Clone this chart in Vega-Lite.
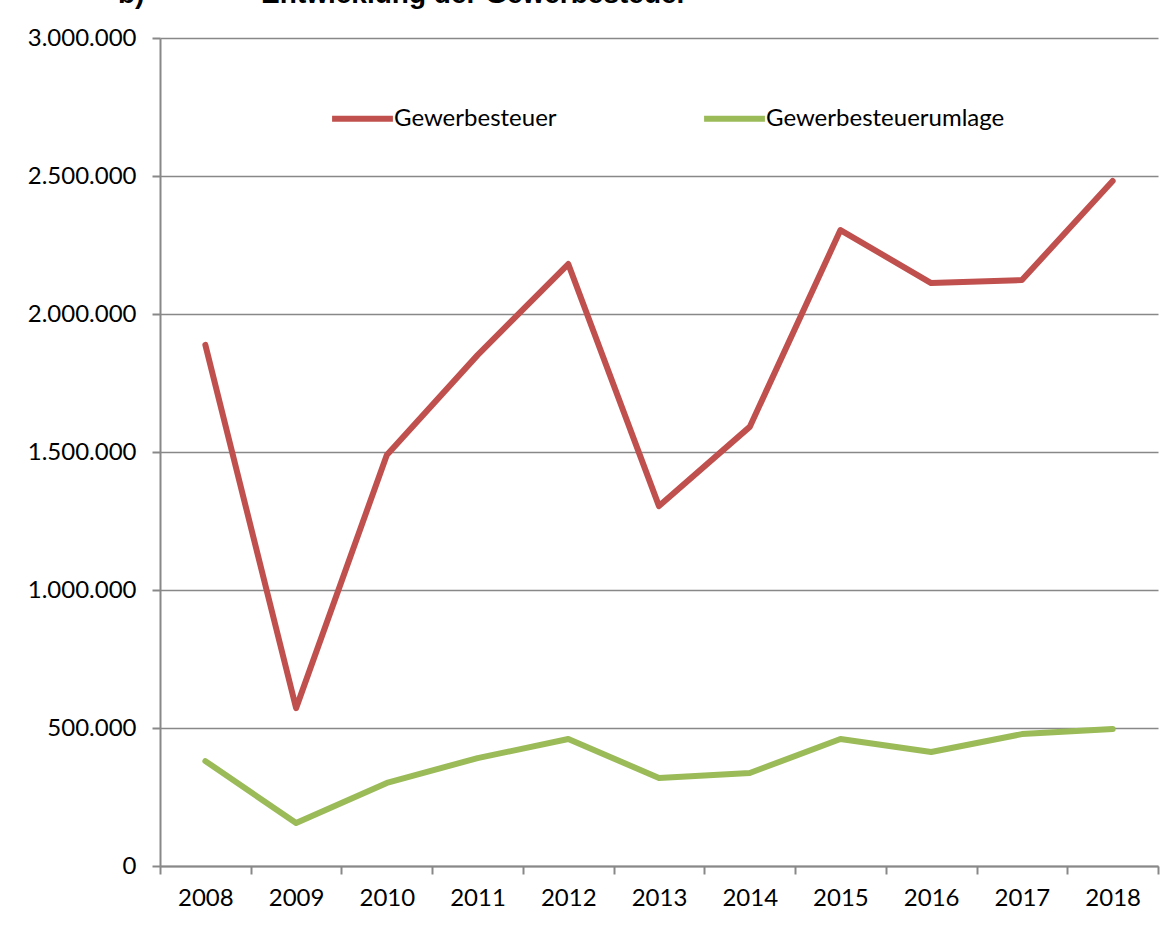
{
  "$schema": "https://vega.github.io/schema/vega-lite/v6.json",
  "autosize": "none",
  "width": 998,
  "height": 828,
  "padding": {"left": 160, "top": 38, "right": 9, "bottom": 62},
  "background": "white",
  "title": {
    "text": "b)\u00a0\u00a0\u00a0\u00a0\u00a0\u00a0\u00a0\u00a0\u00a0\u00a0\u00a0\u00a0\u00a0\u00a0\u00a0Entwicklung der Gewerbesteuer",
    "anchor": "start",
    "frame": "group",
    "dx": -42,
    "dy": 11,
    "offset": 6,
    "baseline": "alphabetic",
    "font": "Liberation Sans",
    "fontSize": 28,
    "fontWeight": "bold",
    "color": "black"
  },
  "data": {
    "values": [
      {"Jahr": "2008", "Reihe": "Gewerbesteuer", "Wert": 1888000},
      {"Jahr": "2009", "Reihe": "Gewerbesteuer", "Wert": 572000},
      {"Jahr": "2010", "Reihe": "Gewerbesteuer", "Wert": 1489000},
      {"Jahr": "2011", "Reihe": "Gewerbesteuer", "Wert": 1851000},
      {"Jahr": "2012", "Reihe": "Gewerbesteuer", "Wert": 2181000},
      {"Jahr": "2013", "Reihe": "Gewerbesteuer", "Wert": 1304000},
      {"Jahr": "2014", "Reihe": "Gewerbesteuer", "Wert": 1591000},
      {"Jahr": "2015", "Reihe": "Gewerbesteuer", "Wert": 2304000},
      {"Jahr": "2016", "Reihe": "Gewerbesteuer", "Wert": 2112000},
      {"Jahr": "2017", "Reihe": "Gewerbesteuer", "Wert": 2123000},
      {"Jahr": "2018", "Reihe": "Gewerbesteuer", "Wert": 2482000},
      {"Jahr": "2008", "Reihe": "Gewerbesteuerumlage", "Wert": 380000},
      {"Jahr": "2009", "Reihe": "Gewerbesteuerumlage", "Wert": 156000},
      {"Jahr": "2010", "Reihe": "Gewerbesteuerumlage", "Wert": 301000},
      {"Jahr": "2011", "Reihe": "Gewerbesteuerumlage", "Wert": 391000},
      {"Jahr": "2012", "Reihe": "Gewerbesteuerumlage", "Wert": 460000},
      {"Jahr": "2013", "Reihe": "Gewerbesteuerumlage", "Wert": 319000},
      {"Jahr": "2014", "Reihe": "Gewerbesteuerumlage", "Wert": 337000},
      {"Jahr": "2015", "Reihe": "Gewerbesteuerumlage", "Wert": 460000},
      {"Jahr": "2016", "Reihe": "Gewerbesteuerumlage", "Wert": 413000},
      {"Jahr": "2017", "Reihe": "Gewerbesteuerumlage", "Wert": 478000},
      {"Jahr": "2018", "Reihe": "Gewerbesteuerumlage", "Wert": 496000}
    ]
  },
  "mark": {"type": "line", "strokeWidth": 6, "strokeCap": "round", "strokeJoin": "round"},
  "encoding": {
    "x": {
      "field": "Jahr",
      "type": "ordinal",
      "scale": {"type": "band", "paddingInner": 0, "paddingOuter": 0},
      "axis": {
        "title": null,
        "labelAngle": 0,
        "labelFont": "Lato",
        "labelFontSize": 24,
        "labelColor": "black",
        "labelPadding": 12,
        "domainColor": "#888888",
        "domainWidth": 2,
        "tickColor": "#888888",
        "tickWidth": 2,
        "tickSize": 8,
        "tickBand": "extent",
        "grid": false
      }
    },
    "y": {
      "field": "Wert",
      "type": "quantitative",
      "scale": {"domain": [0, 3000000], "nice": false},
      "axis": {
        "title": null,
        "values": [0, 500000, 1000000, 1500000, 2000000, 2500000, 3000000],
        "labelExpr": "replace(format(datum.value, ',d'), /,/g, '.')",
        "labelFont": "Lato",
        "labelFontSize": 24,
        "labelColor": "black",
        "labelPadding": 16,
        "domainColor": "#888888",
        "domainWidth": 2,
        "tickColor": "#888888",
        "tickWidth": 2,
        "tickSize": 8,
        "grid": true,
        "gridColor": "#888888",
        "gridWidth": 1.5
      }
    },
    "color": {
      "field": "Reihe",
      "type": "nominal",
      "scale": {"domain": ["Gewerbesteuer", "Gewerbesteuerumlage"], "range": ["#C0504D", "#9BBB59"]},
      "legend": {
        "title": null,
        "orient": "none",
        "legendX": 169,
        "legendY": 47,
        "direction": "horizontal",
        "columns": 2,
        "gridAlign": "each",
        "columnPadding": 135,
        "symbolType": "stroke",
        "symbolSize": 3700,
        "symbolStrokeWidth": 6,
        "labelFont": "Lato",
        "labelFontSize": 24,
        "labelColor": "black",
        "labelOffset": -2,
        "labelLimit": 400
      }
    }
  },
  "config": {"view": {"stroke": null}}
}
